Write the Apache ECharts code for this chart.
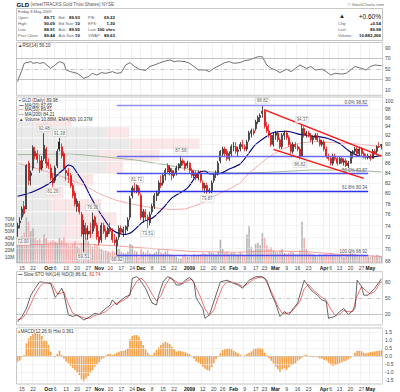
<!DOCTYPE html>
<html><head><meta charset="utf-8">
<script src="https://cdn.jsdelivr.net/npm/echarts@6/dist/echarts.min.js"></script>
<style>html,body{margin:0;padding:0;background:#fff}#c{width:400px;height:392px}</style>
</head><body><div id="c"></div>
<script>
// ---------------- DATA ----------------
const tradingDays = {
 '2008-09': [11,12,15,16,17,18,19,22,23,24,25,26,29,30],
 '2008-10': [1,2,3,6,7,8,9,10,13,14,15,16,17,20,21,22,23,24,27,28,29,30,31],
 '2008-11': [3,4,5,6,7,10,11,12,13,14,17,18,19,20,21,24,25,26,28],
 '2008-12': [1,2,3,4,5,8,9,10,11,12,15,16,17,18,19,22,23,24,26,29,30,31],
 '2009-01': [2,5,6,7,8,9,12,13,14,15,16,20,21,22,23,26,27,28,29,30],
 '2009-02': [2,3,4,5,6,9,10,11,12,13,17,18,19,20,23,24,25,26,27],
 '2009-03': [2,3,4,5,6,9,10,11,12,13,16,17,18,19,20,23,24,25,26,27,30,31],
 '2009-04': [1,2,3,6,7,8,9,13,14,15,16,17,20,21,22,23,24,27,28,29,30],
 '2009-05': [1,4,5,6,7,8]
};
const tickLabels = {
 '2008-09-15':'15','2008-09-22':'22','2008-10-01':'Oct','2008-10-06':'6','2008-10-13':'13','2008-10-20':'20','2008-10-27':'27',
 '2008-11-03':'Nov','2008-11-10':'10','2008-11-17':'17','2008-11-24':'24','2008-12-01':'Dec','2008-12-08':'8','2008-12-15':'15','2008-12-22':'22',
 '2009-01-02':'2009','2009-01-12':'12','2009-01-20':'20','2009-01-26':'26','2009-02-02':'Feb','2009-02-09':'9','2009-02-17':'17','2009-02-23':'23',
 '2009-03-02':'Mar','2009-03-09':'9','2009-03-16':'16','2009-03-23':'23','2009-04-01':'Apr','2009-04-06':'6','2009-04-13':'13','2009-04-20':'20','2009-04-27':'27','2009-05-01':'May'
};
const opens = [73.5,74.5,75.5,77.5,77.0,86.0,83.5,85.0,88.5,88.0,86.5,85.0,87.0,89.0,
 86.2,85.0,83.0,82.5,85.5,90.5,89.5,88.0,84.5,84.0,83.5,81.5,80.0,77.5,78.0,76.0,72.5,73.5,72.5,73.0,73.0,75.5,74.0,
 72.0,71.5,74.0,73.0,72.5,73.5,73.0,71.5,70.5,72.0,73.5,72.8,73.3,73.8,75.5,79.5,81.0,80.5,81.0,
 79.5,75.5,76.5,75.5,74.5,76.5,77.5,79.5,80.0,82.0,82.0,83.5,85.5,84.2,84.5,83.5,84.0,85.0,85.5,86.5,86.0,85.5,
 86.0,84.5,83.5,84.0,83.0,84.0,82.0,81.0,81.5,80.3,80.5,82.5,84.0,84.0,86.5,88.0,89.0,88.5,87.0,88.0,
 89.5,89.5,88.5,89.0,90.0,89.5,89.0,91.0,92.5,93.0,93.5,95.0,96.0,97.0,97.5,94.0,93.0,92.0,90.0,
 92.0,92.5,91.0,89.5,92.0,92.5,91.5,90.0,88.5,90.0,89.5,89.0,87.5,93.5,92.0,92.5,92.0,91.0,91.5,92.0,91.0,90.0,
 90.5,89.0,87.5,87.0,86.0,87.5,87.0,86.0,87.0,86.2,86.5,85.5,86.0,88.0,88.5,89.0,88.0,89.0,88.0,87.5,87.3,
 87.5,87.0,88.5,88.5,89.5,89.71];
const highs = [74.5,75.5,77.5,78.5,85.8,86.5,84.5,89.8,89.5,88.8,87.8,87.5,92.48,89.5,
 87.0,85.8,84.0,85.5,89.0,91.38,90.2,88.5,85.5,85.0,84.0,82.0,80.5,79.0,78.5,76.5,75.0,74.5,74.0,74.5,76.36,75.8,74.5,
 73.0,74.5,74.5,73.5,73.8,74.5,73.5,72.5,72.0,74.0,74.0,73.8,74.0,75.5,79.5,81.5,82.0,81.72,81.5,
 80.0,77.0,77.0,76.0,76.5,78.0,80.0,80.5,82.5,83.5,84.0,85.0,86.0,85.5,85.0,84.5,85.5,86.0,87.58,87.0,86.5,86.5,
 86.2,85.0,84.5,84.5,84.5,84.5,82.5,82.0,82.0,81.0,82.5,84.0,84.5,86.5,88.8,89.5,89.5,89.0,88.5,90.0,
 90.5,90.5,89.5,90.5,91.0,90.0,91.0,93.0,93.5,93.5,95.5,96.5,97.0,98.82,98.0,95.0,94.5,92.5,92.5,
 93.0,93.0,91.5,92.5,93.0,93.0,92.0,90.5,90.5,90.5,90.0,89.5,94.37,94.0,93.0,93.0,92.5,92.0,92.5,92.5,91.5,91.0,
 91.0,89.5,88.0,87.5,88.0,88.0,87.5,87.5,87.5,87.0,87.0,86.5,88.5,88.8,89.5,89.5,89.5,89.5,88.5,88.0,88.0,
 88.0,89.0,89.0,89.8,90.5,90.09];
const lows = [72.0,73.5,75.0,75.8,77.0,81.5,81.5,84.5,86.8,86.0,84.0,84.5,86.5,85.0,
 84.8,82.5,81.26,82.0,85.0,88.5,87.0,84.5,82.5,82.0,81.0,79.0,77.5,76.5,76.0,72.0,69.51,71.5,71.5,71.8,72.5,73.5,71.5,
 70.5,71.0,72.5,71.5,72.0,72.5,71.0,70.5,68.92,71.5,72.5,72.0,72.5,73.0,75.0,79.0,80.0,80.0,79.5,
 75.0,74.5,75.0,73.51,74.0,76.0,77.0,78.5,79.5,81.0,81.5,82.5,84.0,83.5,82.5,83.0,83.5,84.5,85.0,85.5,84.5,85.0,
 84.0,83.0,83.0,82.5,82.5,82.0,80.5,80.0,79.87,80.0,80.0,82.0,83.0,83.5,86.0,87.5,87.5,86.5,86.5,87.5,
 88.5,88.0,87.5,88.5,89.0,88.5,88.5,90.5,91.5,92.0,93.0,94.5,95.0,96.0,93.5,92.5,91.5,89.5,89.5,
 91.0,90.5,89.0,89.0,91.0,91.0,89.5,88.0,88.0,89.0,88.5,86.82,87.3,91.5,91.5,91.5,90.5,90.0,91.0,90.5,89.5,89.5,
 88.5,87.0,86.5,85.5,85.5,86.5,85.5,85.8,85.8,85.5,85.2,85.0,86.0,87.0,88.0,87.5,87.5,87.5,87.0,86.8,86.8,
 86.5,87.0,87.8,88.0,89.2,88.91];
const closes = [74.0,74.8,77.0,76.2,85.5,82.5,84.0,89.3,87.5,86.8,84.8,86.5,89.8,86.0,
 85.5,83.0,82.0,85.0,88.5,89.0,87.5,85.0,84.0,83.5,81.5,79.5,78.0,78.5,76.5,72.5,74.0,72.5,73.0,72.5,75.0,74.0,72.0,
 71.0,74.0,73.0,72.0,73.5,73.0,71.5,71.0,71.5,73.5,72.8,73.3,73.8,75.0,79.0,81.0,80.5,81.5,80.0,
 75.5,76.5,75.5,75.0,76.0,77.5,79.5,80.0,82.0,81.5,83.5,84.5,84.2,85.0,83.5,84.0,85.0,85.8,86.5,86.0,85.0,86.0,
 84.5,83.5,84.0,83.0,84.0,82.5,81.0,81.5,80.3,80.6,82.0,83.5,84.0,86.0,88.5,89.0,88.0,87.0,88.0,89.5,
 89.5,88.5,88.8,90.0,89.5,89.0,90.5,92.5,93.0,92.5,95.0,96.0,96.5,97.5,94.0,93.0,92.0,90.0,92.0,
 92.5,91.0,89.5,92.0,92.5,91.5,90.0,88.5,90.0,89.5,89.0,87.5,93.5,92.0,92.5,92.0,91.0,91.5,92.0,91.0,90.0,90.5,
 89.0,87.5,87.0,86.0,87.5,87.0,86.0,87.0,86.2,86.5,85.5,86.0,88.0,88.5,89.0,88.0,89.0,88.0,87.5,87.3,87.5,
 87.0,88.5,88.2,89.5,89.44,89.98];
const volumes = [38,32,42,48,72,65,50,55,40,36,38,30,45,40,
 32,34,36,33,32,40,36,42,30,28,26,30,34,26,24,32,36,40,34,28,26,30,28,
 25,22,20,20,18,17,20,18,26,22,18,16,15,18,30,28,20,18,10,
 22,18,16,20,15,14,16,18,22,17,15,18,20,14,13,12,10,7,7,12,14,10,
 10,12,14,12,13,14,16,15,14,18,16,15,14,18,37,22,17,18,15,16,
 16,15,14,17,15,13,45,58,25,20,30,32,28,47,40,28,22,25,20,
 18,17,20,22,16,15,16,18,17,14,15,20,65,40,22,16,15,14,13,12,14,12,
 14,15,13,16,14,13,12,11,12,10,12,11,18,15,14,12,11,13,12,11,10,
 10,12,11,13,12,10.88];
const volEma60 = [[0,28],[15,30],[30,30],[45,27],[60,23],[80,18],[100,17],[115,19],[130,18],[145,14],[165,10.37]];
const ma20 = [[0,79.4],[7,80.3],[15,82.1],[18,83.6],[21,84.8],[23,85.6],[25,85.3],[27,84.0],[30,82.0],[33,79.4],[36,77.2],[39,75.3],[43,73.2],[49,72.4],[52,72.9],[57,74.7],[61,75.3],[66,77.2],[70,79.1],[77,81.0],[82,84.0],[85,84.4],[87,83.8],[91,83.8],[96,84.8],[101,85.9],[105,88.2],[108,90.0],[113,91.8],[116,92.6],[122,92.9],[128,92.2],[134,91.8],[140,91.4],[146,90.2],[150,88.7],[155,87.5],[160,87.3],[165,87.65]];
const ma50 = [[0,86.0],[8,85.0],[15,84.0],[22,83.0],[30,81.6],[37,79.9],[45,78.6],[52,77.9],[59,77.4],[69,76.9],[76,77.0],[83,78.0],[90,79.6],[95,80.6],[101,82.0],[105,84.0],[110,85.8],[113,87.0],[120,89.0],[128,90.3],[135,90.6],[143,90.4],[150,90.2],[158,89.9],[165,89.51]];
const ma200 = [[0,87.8],[23,88.0],[38,87.4],[53,86.7],[68,85.6],[83,84.3],[98,84.0],[112,84.1],[133,84.6],[150,84.6],[165,84.21]];
const rsi = [[0,25.8],[1,38],[2,48],[3,60.6],[6,63.7],[7,60.6],[9,62],[10,60.6],[12,62],[15,51],[17,57.4],[19,63.7],[21,60.6],[22,48],[24,44.8],[27,41.6],[30,32.2],[32,35.3],[34,41.6],[36,38.4],[38,43],[40,41.6],[43,44.8],[45,41.6],[47,43],[49,57.4],[51,62],[53,54.5],[55,49.5],[58,47],[60,54.5],[62,57.4],[64,60.6],[67,65],[69,66.9],[71,63.7],[73,65],[76,63.7],[78,60.6],[80,54.5],[82,48],[85,48],[87,44.8],[89,51],[92,57.4],[94,62],[96,63.7],[98,60.6],[101,62],[103,65.6],[105,66.9],[107,70],[109,73],[111,73],[113,57.4],[115,51],[117,48],[119,43],[122,49.5],[124,44.8],[126,51],[128,57.4],[131,51],[133,54.5],[135,48],[138,49.5],[140,44.8],[142,38.4],[144,41.6],[147,40.3],[149,41.6],[151,48],[153,54.5],[156,51],[158,48],[160,54.5],[162,57.4],[165,56.1]];
const stoK = [[0,6],[2,16],[4,31],[6,56],[8,69],[10,81],[12,80],[15,78],[16,66],[17,52],[18,56],[20,69],[21,59],[23,19],[25,16],[27,19],[29,12.5],[30,9.4],[33,16],[35,22],[37,20],[40,31],[42,37.5],[43,47],[45,37.5],[46,44],[49,53],[51,56],[52,87.5],[54,90.6],[55,87.5],[58,69],[61,41],[63,37.5],[64,56],[66,81],[68,90.6],[70,87.5],[72,75],[74,75],[76,84],[78,89],[80,81],[81,50],[82,44],[84,31],[85,12.5],[87,19],[89,44],[91,69],[92,81],[95,84],[98,78],[100,75],[102,69],[105,84],[108,90.6],[111,90.6],[113,84],[115,59],[117,41],[119,16],[121,25],[123,19],[125,31],[127,41],[128,56],[130,84],[131,78],[133,66],[135,59],[136,56],[138,47],[140,44],[141,12.5],[144,16],[146,25],[148,31],[150,19],[153,31],[154,84],[156,72],[157,56],[159,56],[162,69],[165,86.61]];
const stoD = [[0,10],[2,12],[4,22],[6,40],[8,58],[10,72],[12,79],[15,79],[16,74],[17,66],[18,58],[20,60],[21,62],[23,40],[25,22],[27,18],[29,15],[31,12],[33,13],[35,18],[37,20],[40,25],[42,33],[44,40],[46,42],[48,46],[50,52],[52,68],[54,82],[56,88],[58,80],[61,58],[63,45],[65,55],[67,75],[69,88],[71,84],[73,78],[75,78],[77,83],[79,86],[81,70],[83,52],[85,30],[87,18],[89,28],[91,52],[93,72],[95,81],[98,80],[100,77],[102,72],[104,76],[107,86],[110,90],[112,88],[114,72],[116,55],[118,35],[120,22],[122,22],[124,24],[126,33],[128,44],[130,68],[132,76],[134,66],[136,59],[138,52],[140,46],[142,30],[144,18],[146,20],[148,27],[150,25],[152,25],[154,55],[156,72],[158,64],[160,58],[162,63],[165,82.74]];
const macdHist = [-0.35,-0.29,-0.08,0.06,0.79,1.1,1.25,1.38,1.42,1.42,1.38,1.25,1.0,0.94,0.69,0.27,0,-0.08,0.13,0.33,0.06,-0.15,-0.35,-0.46,-0.63,-0.75,-0.88,-1.02,-1.19,-1.46,-1.6,-1.4,-1.25,-1.04,-0.88,-0.67,-0.52,-0.38,-0.21,-0.13,
 0.04,0.13,0.13,0.06,0.13,0.21,0.27,0.31,0.33,0.38,0.48,1.04,1.25,1.31,1.31,1.21,0.96,0.69,0.42,0.21,0.06,0.04,0.21,0.38,0.54,0.69,0.79,0.9,0.83,0.75,
 0.58,0.42,0.27,0.33,0.31,0.27,0.23,0.17,0.13,-0.04,-0.17,-0.35,-0.42,-0.5,-0.67,-0.79,-0.88,-0.92,-0.71,-0.46,-0.21,-0.04,0.17,0.38,0.42,0.44,0.48,0.42,0.33,0.23,
 0.17,0.08,0,0.04,0.13,0.21,0.29,0.42,0.48,0.52,0.52,0.48,0.21,0.06,-0.15,-0.29,-0.46,-0.67,-0.83,-0.98,-0.83,-0.77,-0.88,-0.71,-0.58,-0.54,-0.46,-0.29,-0.21,-0.1,
 0.04,0.08,0,-0.04,-0.08,-0.04,-0.08,-0.15,-0.17,-0.25,-0.29,-0.42,-0.54,-0.63,-0.58,-0.54,-0.46,-0.4,-0.33,-0.29,-0.21,-0.13,0,0.21,0.31,0.33,0.29,0.21,0.17,0.21,
 0.25,0.27,0.29,0.31,0.33,0.361];
// volume-by-price zones (price low, price high, up volume, down volume)
const vbpLow  = [96.3,93.9,91.4,88.9,86.4,83.9,81.4,78.9,76.5,74.0,71.5,69.0];
const vbpHigh = [98.8,96.3,93.9,91.4,88.9,86.4,83.9,81.4,78.9,76.5,74.0,71.5];
const vbpUp   = [10,18,90,113,83,90,60,30,35,50,45,30];
const vbpDown = [15,37,23,70,60,17,17,17,50,50,45,35];
// Fibonacci retracement and trend channel
const fibPct = ['0.0%','38.2%','50.0%','61.8%','100.0%'];
const fibVal = [98.82,87.40,83.87,80.34,68.92];
const fibFrom = 45, fibTo = 159;
const trendUpper = [[111.7,97.8],[165,87.5]];
const trendLower = [[115.8,88.9],[156.5,82.9]];
// price annotations
const annIdx   = [0,12,16,19,30,34,45,54,59,74,86,111,128,129];
const annPrice = [72.00,92.48,81.26,91.38,69.51,76.36,68.92,81.72,73.51,87.58,79.87,98.82,86.82,94.37];
const annPos   = ['bottom','top','bottom','top','bottom','top','bottom','top','bottom','top','bottom','top','bottom','top'];
const priceTicks = [68,70,72,74,76,78,80,82,84,86,88,90,92,94,96,98,100];
// header quote rows
const quoteRows = [['Open:','89.71','Bid:','89.93','P/E:','69.22'],['High:','90.09','Bid Size:','10','EPS:','1.30'],
  ['Low:','88.91','Ask:','89.95','Last:','100 shrs'],['Prev Close:','89.44','Ask Size:','10','VWAP:','89.63']];
const quoteRight = [['Chg:','+0.54'],['Last:','89.98'],['Volume:','10,883,266']];

// ---------------- CHART ----------------
const dates = [];
for (const m in tradingDays) for (const d of tradingDays[m]) dates.push(m + '-' + String(d).padStart(2,'0'));
const F = 'Liberation Sans, Arial, sans-serif';
const L = 16.5, W = 366;
const gridDefs = [[42.5,52.8],[97,166],[271.7,53.3],[328,56]];
const grid = gridDefs.map(g => ({left:L, width:W, top:g[0], height:g[1], show:true, borderColor:'#a0a0a0', borderWidth:0.6, backgroundColor:'#fff'}));
const isTick = (i, v) => tickLabels[v] !== undefined;
function mkX(g, show) {
  return {type:'category', gridIndex:g, data:dates, boundaryGap:true,
    axisLine:{show:false}, axisTick:{show:false},
    axisLabel:{show:show, interval:isTick, margin:2.5, fontSize:5, fontFamily:F, color:'#444',
      formatter: v => { const t = tickLabels[v]; if (!t) return ''; return /^\d{1,2}$/.test(t) ? t : '{b|' + t + '}'; },
      rich:{b:{fontWeight:'bold', fontSize:5, fontFamily:F, color:'#111'}}},
    splitLine:{show:true, interval:isTick, lineStyle:{color:'#e4e4e4', width:0.5}}};
}
const rightLbl = (fmt) => ({show:true, fontSize:5, fontFamily:F, color:'#444', margin:2.5, formatter:fmt});
const noLine = {axisLine:{show:false}, axisTick:{show:false}, splitLine:{show:false}};
const yAxis = [
  Object.assign({type:'value', gridIndex:0, min:0, max:100, interval:10, position:'right', axisLabel:rightLbl(v => [10,30,50,70,90].includes(v) ? String(v) : '')}, noLine),
  Object.assign({type:'log', logBase:10, gridIndex:1, min:67.6, max:100.9, position:'right', axisLabel:{show:false}}, noLine),
  Object.assign({type:'value', gridIndex:1, min:0, max:262, interval:10, position:'left', axisLabel:{show:true, fontSize:5, fontFamily:F, color:'#444', margin:2, formatter: v => (v >= 10 && v <= 70) ? v + 'M' : ''}}, noLine),
  Object.assign({type:'value', gridIndex:2, min:0, max:100, interval:10, position:'right', axisLabel:rightLbl(v => [20,50,80].includes(v) ? String(v) : '')}, noLine),
  Object.assign({type:'value', gridIndex:3, min:-1.75, max:1.75, interval:0.25, position:'right', axisLabel:rightLbl(v => Math.abs(v*2 - Math.round(v*2)) < 1e-6 ? v.toFixed(1) : '')}, noLine)
];
const xAxis = [mkX(0,false), mkX(1,true), mkX(2,false), mkX(3,true),
  {type:'value', gridIndex:1, min:0, max:W, show:false}];

const candleData = dates.map((d, i) => {
  const up = closes[i] >= opens[i];
  const rise = i === 0 || closes[i] >= closes[i-1];
  const col = rise ? '#000000' : '#e00000';
  const fill = up ? '#ffffff' : col;
  return {value:[opens[i], closes[i], lows[i], highs[i]], itemStyle:{color:fill, color0:fill, borderColor:col, borderColor0:col, borderWidth:0.7}};
});
const volData = volumes.map((v, i) => ({value:v, itemStyle:{color:(i === 0 || closes[i] >= closes[i-1]) ? '#b4b4b4' : '#f2b0b0'}}));
const fibColors = ['#9090f0','#6a6aee','#5252ee','#2e2eee','#4a4af0'];
const fibLines = fibVal.map((v, k) => [
  {coord:[fibFrom, v], lineStyle:{color:fibColors[k], width:1.3, type:'solid'},
   label:{show:k !== 1, position:'insideEndTop', formatter:fibPct[k] + ' ' + v.toFixed(2), fontSize:4.5, fontFamily:F, color:'#555', distance:1}},
  {coord:[fibTo, v]}]);
const trendLines = [trendUpper, trendLower].map(t => [
  {coord:t[0], lineStyle:{color:'#ff1010', width:1.3, type:'solid'}, label:{show:false}}, {coord:t[1]}]);
const hline = (v, dash, color) => ({yAxis:v, lineStyle:{color:color || '#9a9a9a', width:0.6, type:dash ? [4,2,1,2] : 'solid'}, label:{show:false}});
const txt = (x, y, text, font, fill, align, extra) => ({type:'text', x:x, y:y, z:100,
  style:Object.assign({text:text, font:font, fill:fill, textAlign:align || 'left', textVerticalAlign:'middle'}, extra || {})});
const LBL = '4px ' + F, VAL = 'bold 4.4px ' + F;

const option = {
  animation:false,
  textStyle:{fontFamily:F},
  grid, xAxis, yAxis,
  series:[
    {type:'line', name:'grid', xAxisIndex:1, yAxisIndex:1, data:closes, showSymbol:false, silent:true, z:0,
     lineStyle:{opacity:0},
     markLine:{silent:true, symbol:['none','none'], animation:false,
       data:priceTicks.map(p => ({yAxis:p, lineStyle:{color:'#e8e8e8', width:0.5, type:'solid'},
         label:{show:true, position:'end', distance:2.5, formatter:String(p), fontSize:5, fontFamily:F, color:'#444'}}))}},
    {type:'custom', name:'vbp', xAxisIndex:4, yAxisIndex:1, silent:true, z:1,
     data:vbpLow.map((lo, k) => [vbpUp[k], vbpDown[k], lo, vbpHigh[k]]),
     encode:{x:[0,1], y:[2,3]},
     renderItem:(params, api) => {
       const a = api.coord([0, api.value(3)]);
       const b = api.coord([api.value(0), api.value(2)]);
       const c = api.coord([api.value(0) + api.value(1), api.value(2)]);
       const h = b[1] - a[1] - 0.8;
       return {type:'group', children:[
         {type:'rect', shape:{x:a[0], y:a[1] + 0.4, width:b[0] - a[0], height:h}, style:{fill:'rgba(190,190,190,0.32)'}},
         {type:'rect', shape:{x:b[0], y:a[1] + 0.4, width:c[0] - b[0], height:h}, style:{fill:'rgba(240,170,170,0.28)'}}]};
     }},
    {type:'bar', name:'Volume', xAxisIndex:1, yAxisIndex:2, data:volData, barWidth:'70%', silent:true, z:2},
    {type:'line', name:'EMA60', xAxisIndex:1, yAxisIndex:2, data:volEma60, showSymbol:false, silent:true, z:2, lineStyle:{color:'#ee8888', width:0.8}},
    {type:'line', name:'MA200', xAxisIndex:1, yAxisIndex:1, data:ma200, showSymbol:false, silent:true, z:3, lineStyle:{color:'#98b096', width:0.9}},
    {type:'line', name:'MA50', xAxisIndex:1, yAxisIndex:1, data:ma50, showSymbol:false, silent:true, z:3, lineStyle:{color:'#f4a4a4', width:0.9}},
    {type:'line', name:'MA20', xAxisIndex:1, yAxisIndex:1, data:ma20, showSymbol:false, silent:true, z:3, smooth:0.3, lineStyle:{color:'#000080', width:1.1}},
    {type:'candlestick', name:'GLD', xAxisIndex:1, yAxisIndex:1, data:candleData, barWidth:1.5, silent:true, z:5,
     markLine:{silent:true, symbol:['none','none'], animation:false, z:6, data:fibLines.concat(trendLines)}},
    {type:'scatter', name:'ann', xAxisIndex:1, yAxisIndex:1, symbolSize:0, silent:true, z:7,
     data:annIdx.map((ix, k) => ({value:[ix, annPrice[k]],
       label:Object.assign({show:true, position:annPos[k], distance:2, formatter:annPrice[k].toFixed(2), fontSize:4.5, fontFamily:F, color:'#333',
         backgroundColor:'#fff', borderColor:'#bbb', borderWidth:0.4, padding:[0.5,1]}, ix === 0 ? {align:'left', offset:[-1,0]} : {})}))},
    {type:'line', name:'RSI', xAxisIndex:0, yAxisIndex:0, data:rsi, showSymbol:false, silent:true, lineStyle:{color:'#333', width:0.7},
     markLine:{silent:true, symbol:['none','none'], animation:false, data:[hline(70), hline(30), hline(50, true)]}},
    {type:'line', name:'%K', xAxisIndex:2, yAxisIndex:3, data:stoK, showSymbol:false, silent:true, z:4, lineStyle:{color:'#222', width:0.7},
     markLine:{silent:true, symbol:['none','none'], animation:false, data:[hline(80), hline(20), hline(50, true)]}},
    {type:'line', name:'%D', xAxisIndex:2, yAxisIndex:3, data:stoD, showSymbol:false, silent:true, z:3, lineStyle:{color:'#ee3333', width:0.7}},
    {type:'bar', name:'MACD Hist', xAxisIndex:3, yAxisIndex:4, data:macdHist, barWidth:'75%', silent:true, z:3,
     itemStyle:{color:'#f3a24e'},
     markLine:{silent:true, symbol:['none','none'], animation:false,
       data:[hline(1.5,false,'#ececec'), hline(1.0,false,'#ececec'), hline(0.5,false,'#ececec'), hline(0,false,'#c8c8c8'),
             hline(-0.5,false,'#ececec'), hline(-1.0,false,'#ececec'), hline(-1.5,false,'#ececec')]}}
  ],
  graphic:[
    txt(16.5, 4.5, '{a|GLD} (streetTRACKS Gold Trust Shares) NYSE', '4.5px ' + F, '#555', 'left', {rich:{a:{font:'bold 6px ' + F, fill:'#000'}}}),
    txt(384, 4.5, '\u00a9 StockCharts.com', '4.2px ' + F, '#666', 'right'),
    {type:'rect', z:90, shape:{x:16.5, y:8.5, width:366, height:32}, style:{fill:'#fff', stroke:'#a0a0a0', lineWidth:0.6}},
    txt(18, 11.5, 'Friday 8-May-2009', LBL, '#555'),
    ...quoteRows.flatMap((r, k) => {
      const y = 17 + 6 * k;
      return [txt(18, y, r[0], LBL, '#666'), txt(55, y, r[1], VAL, '#111', 'right'),
              txt(58.5, y, r[2], LBL, '#666'), txt(80, y, r[3], VAL, '#111', 'right'),
              txt(88, y, r[4], LBL, '#666'), txt(115, y, r[5], VAL, '#111', 'right')];
    }),
    txt(342, 16, '\u25b2', '6px ' + F, '#222', 'center'),
    txt(381, 16, '+0.60%', '6.5px ' + F, '#111', 'right'),
    ...quoteRight.flatMap((r, k) => [txt(338, 23 + 6 * k, r[0], LBL, '#666'), txt(381, 23 + 6 * k, r[1], VAL, '#111', 'right')]),
    txt(18, 45.5, '\u25b2RSI(14) 56.10', '4.5px ' + F, '#333', 'left', {backgroundColor:'rgba(255,255,255,0.8)'}),
    txt(19, 100.5, '\u25aa GLD (Daily) 89.98', '4.5px ' + F, '#333', 'left', {backgroundColor:'rgba(255,255,255,0.7)'}),
    txt(19, 105.2, '{a|\u2014} MA(20) 87.65', '4.5px ' + F, '#333', 'left', {backgroundColor:'rgba(255,255,255,0.7)', rich:{a:{fill:'#000080', font:'bold 4.5px ' + F}}}),
    txt(19, 109.8, '{a|\u2014} MA(50) 89.51', '4.5px ' + F, '#333', 'left', {backgroundColor:'rgba(255,255,255,0.7)', rich:{a:{fill:'#f09090', font:'bold 4.5px ' + F}}}),
    txt(19, 114.4, '{a|\u2014} MA(200) 84.21', '4.5px ' + F, '#333', 'left', {backgroundColor:'rgba(255,255,255,0.7)', rich:{a:{fill:'#7a907a', font:'bold 4.5px ' + F}}}),
    txt(19, 119, '\u25b2 Volume 10.88M, EMA(60) 10.37M', '4.5px ' + F, '#333', 'left', {backgroundColor:'rgba(255,255,255,0.7)'}),
    txt(18, 274.5, '{a|\u2014} Slow STO %K(14) %D(3) 86.61, {r|82.74}', '4.5px ' + F, '#333', 'left', {backgroundColor:'rgba(255,255,255,0.8)', rich:{a:{fill:'#000', font:'bold 4.5px ' + F}, r:{fill:'#e03030', font:'4.5px ' + F}}}),
    txt(18, 331, '{a|\u25a0}MACD(12,26,9) Hist 0.361', '4.5px ' + F, '#333', 'left', {backgroundColor:'rgba(255,255,255,0.8)', rich:{a:{fill:'#f3a24e', font:'4.5px ' + F}}})
  ]
};
const chart = echarts.init(document.getElementById('c'), null, {renderer:'svg', width:400, height:392});
chart.setOption(option);
</script>
</body></html>
